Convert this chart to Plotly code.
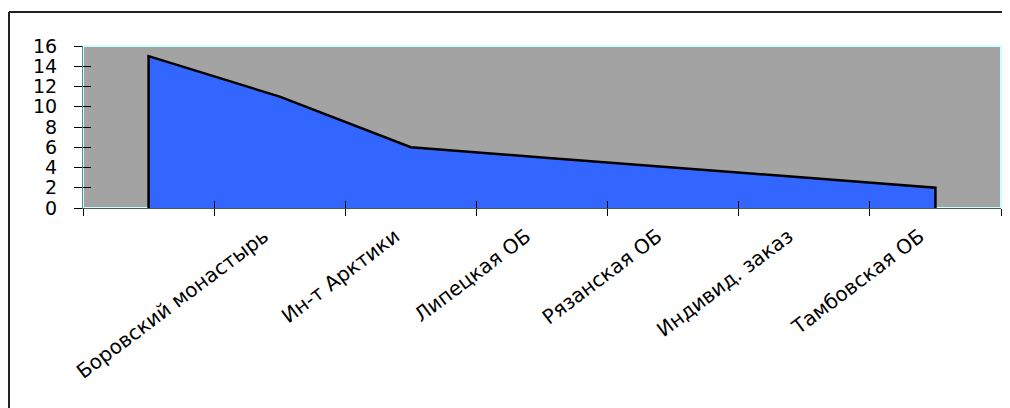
import plotly.graph_objects as go

# ---- data ----
categories = ["", "Боровский монастырь", "Ин-т Арктики", "Липецкая ОБ",
              "Рязанская ОБ", "Индивид. заказ", "Тамбовская ОБ"]
values = [15, 11, 6, 5, 4, 3, 2]
y_ticks = [0, 2, 4, 6, 8, 10, 12, 14, 16]

n = len(categories)
xs = list(range(n))
# closed outline of the area (Excel-style area with border)
x_poly = [xs[0]] + xs + [xs[-1]]
y_poly = [0] + values + [0]

# page offset of the plot div (body margin) is 8px
OFF = 8
W, H = 1002, 400
L, T = 83 - OFF, 46 - OFF
R = W - (1001 - OFF)
B = H - (208 - OFF)
pw, ph = W - L - R, H - T - B

def px_x(p):  # window pixel -> paper
    return (p - OFF - L) / pw

def px_y(p):
    return (H - B - (p - OFF)) / ph

fig = go.Figure()
fig.add_trace(go.Scatter(
    x=x_poly, y=y_poly, mode="lines", fill="toself",
    fillcolor="#3366ff", line=dict(color="black", width=2.5),
    hoverinfo="skip", showlegend=False))
# invisible helpers so the overlay axes (labels, crossing ticks) are drawn
fig.add_trace(go.Scatter(x=xs, y=values, xaxis="x2", yaxis="y", mode="lines",
                         opacity=0, hoverinfo="skip", showlegend=False))
fig.add_trace(go.Scatter(x=xs, y=values, xaxis="x3", yaxis="y2", mode="lines",
                         opacity=0, hoverinfo="skip", showlegend=False))

font_family = "DejaVu Sans, Liberation Sans, Arial"
xr = [-0.5, n - 0.5]
bounds = [i - 0.5 for i in range(n + 1)]
label_pos = [x - 0.12 for x in xs[1:]]

fig.update_layout(
    width=W, height=H,
    margin=dict(l=L, r=R, t=T, b=B, pad=0),
    paper_bgcolor="white",
    plot_bgcolor="#a3a3a3",
    showlegend=False,
    xaxis=dict(range=xr, tickmode="array", tickvals=bounds, showticklabels=False,
               ticks="outside", ticklen=7, tickcolor="black", tickwidth=1,
               showgrid=False, zeroline=False, showline=True,
               linecolor="#3d5c5c", linewidth=1, fixedrange=True),
    xaxis3=dict(range=xr, overlaying="x", anchor="y2", side="bottom",
                tickmode="array", tickvals=bounds, showticklabels=False,
                ticks="inside", ticklen=7, tickcolor="black", tickwidth=1,
                showgrid=False, zeroline=False, showline=False),
    xaxis2=dict(range=xr, overlaying="x", anchor="y", side="bottom",
                tickmode="array", tickvals=label_pos, ticktext=categories[1:],
                ticks="", tickangle=-37, ticklabelstandoff=12,
                tickfont=dict(family=font_family, size=20, color="black"),
                showgrid=False, zeroline=False, showline=False),
    yaxis=dict(range=[0, 16], tickmode="array", tickvals=y_ticks,
               ticks="outside", ticklen=8, tickcolor="black", tickwidth=1,
               ticklabelstandoff=13,
               tickfont=dict(family=font_family, size=19, color="black"),
               showgrid=False, zeroline=False, showline=True,
               linecolor="#5f8a8a", linewidth=1, fixedrange=True),
    yaxis2=dict(range=[0, 16], overlaying="y", anchor="x3", side="left",
                tickmode="array", tickvals=y_ticks, showticklabels=False,
                ticks="inside", ticklen=8, tickcolor="black", tickwidth=1,
                showgrid=False, zeroline=False, showline=False),
    shapes=[
        dict(type="rect", xref="paper", yref="paper", x0=0, x1=1, y0=0, y1=1,
             line=dict(color="#ccffff", width=2), layer="below"),
        dict(type="line", xref="paper", yref="paper",
             x0=px_x(9), x1=px_x(9), y0=px_y(12), y1=px_y(420),
             line=dict(color="#222222", width=2)),
        dict(type="line", xref="paper", yref="paper",
             x0=px_x(9), x1=px_x(1020), y0=px_y(12), y1=px_y(12),
             line=dict(color="#222222", width=2)),
    ],
)

fig.write_html("out.html")
